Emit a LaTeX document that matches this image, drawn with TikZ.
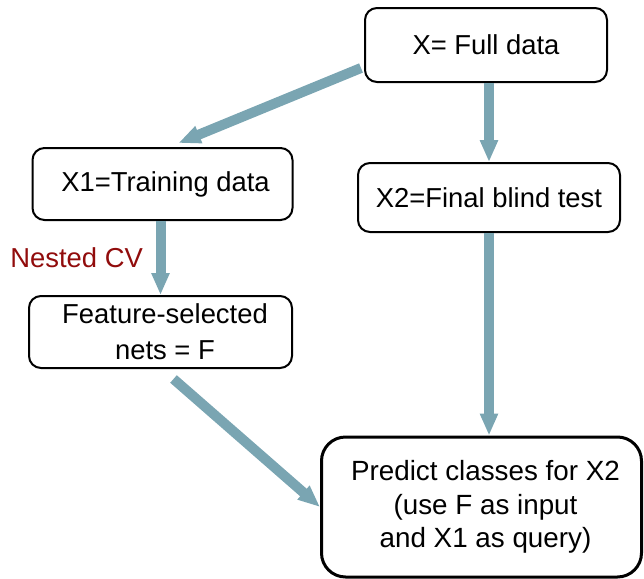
\documentclass[tikz,border=0pt]{standalone}
\usepackage{fontspec}
\setmainfont{Liberation Sans}
\usepackage{tikz}
\usetikzlibrary{calc,arrows.meta}

\definecolor{flowcol}{RGB}{122,165,178}
\definecolor{cvred}{RGB}{145,12,12}

\begin{document}
\begin{tikzpicture}[x=0.5pt,y=-0.5pt,
  box/.style={draw, line width=1pt, rounded corners=6pt, align=center,
    font=\fontsize{13.7}{18}\selectfont, inner sep=0pt},
  flow/.style={draw=flowcol, line width=5pt,
    -{Triangle[length=11pt,width=8.5pt]}, shorten >=0pt}]

\useasboundingbox (0,0) rectangle (644,579);

% boxes
\node[box, minimum width=121pt, minimum height=37pt] (full) at (486,45) {X= Full data};
\node[box, minimum width=130pt, minimum height=36pt] (train) at (162.5,184) {\hspace*{3pt}X1=Training data};
\node[box, minimum width=131pt, minimum height=34.5pt] (blind) at (489,197.5) {X2=Final blind test};
\node[box, minimum width=131.5pt, minimum height=36pt] (feat) at (160.5,332) {\hspace*{4.5pt}Feature-selected\\\hspace*{4.5pt}nets = F};
\node[box, line width=1.5pt, rounded corners=12pt, minimum width=160pt, minimum height=70pt,
  font=\fontsize{13.9}{16.8}\selectfont] (pred) at (481.5,507)
  {\hspace*{4pt}Predict classes for X2\\\hspace*{4pt}(use F as input\\\hspace*{4pt}and X1 as query)};

% label
\node[text=cvred, font=\fontsize{13.7}{16}\selectfont, anchor=base west, inner sep=0pt] (cv) at (10,267) {Nested CV};

% arrows
\draw[flow] ($(full.west)+(-3,23)$) -- ($(train.north)+(16,-4)$);
\draw[flow] (full.south -| blind.north) -- (blind.north);
\draw[flow] (train.south -| feat.north) -- (feat.north);
\draw[flow] (blind.south) -- (blind.south |- pred.north);
\draw[flow] ($(feat.south)+(13,10)$) -- (pred.west);

\end{tikzpicture}
\end{document}
